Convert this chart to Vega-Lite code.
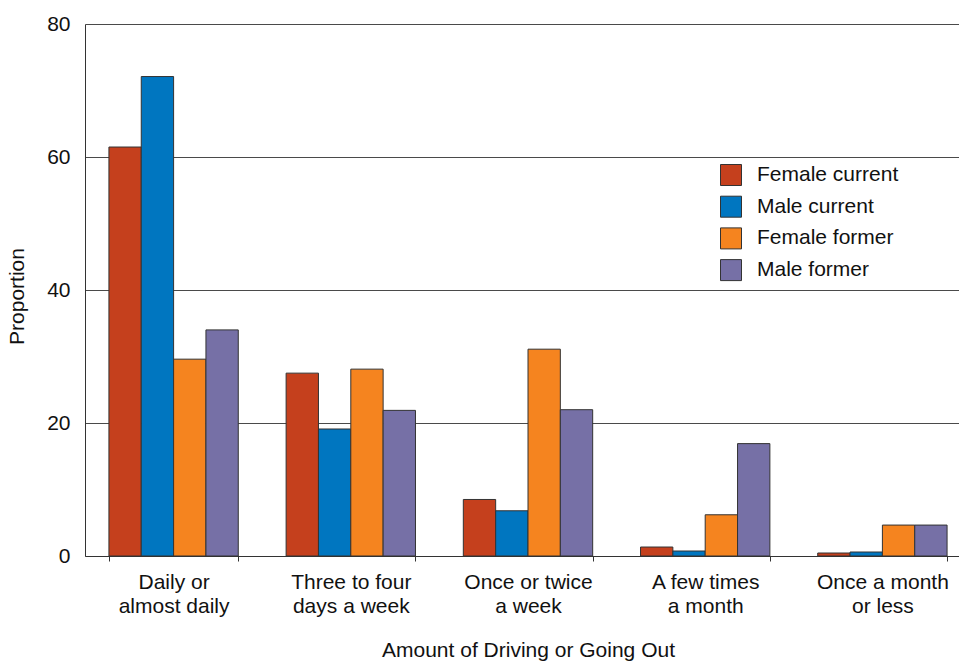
{
  "$schema": "https://vega.github.io/schema/vega-lite/v6.json",
  "autosize": "none",
  "padding": {"left": 85, "top": 24, "right": 0, "bottom": 105},
  "width": 874,
  "height": 532,
  "config": {
    "view": {"stroke": null},
    "font": "Liberation Sans",
    "axis": {"labelFont": "Liberation Sans", "titleFont": "Liberation Sans", "labelColor": "#111", "titleColor": "#111", "titleFontWeight": "normal"},
    "legend": {"labelFont": "Liberation Sans"}
  },
  "data": {
    "values": [
      {"amount": "Daily or almost daily", "group": "Female current", "proportion": 61.5},
      {"amount": "Daily or almost daily", "group": "Male current", "proportion": 72.1},
      {"amount": "Daily or almost daily", "group": "Female former", "proportion": 29.6},
      {"amount": "Daily or almost daily", "group": "Male former", "proportion": 34.0},
      {"amount": "Three to four days a week", "group": "Female current", "proportion": 27.5},
      {"amount": "Three to four days a week", "group": "Male current", "proportion": 19.1},
      {"amount": "Three to four days a week", "group": "Female former", "proportion": 28.1},
      {"amount": "Three to four days a week", "group": "Male former", "proportion": 21.9},
      {"amount": "Once or twice a week", "group": "Female current", "proportion": 8.5},
      {"amount": "Once or twice a week", "group": "Male current", "proportion": 6.8},
      {"amount": "Once or twice a week", "group": "Female former", "proportion": 31.1},
      {"amount": "Once or twice a week", "group": "Male former", "proportion": 22.0},
      {"amount": "A few times a month", "group": "Female current", "proportion": 1.35},
      {"amount": "A few times a month", "group": "Male current", "proportion": 0.75},
      {"amount": "A few times a month", "group": "Female former", "proportion": 6.2},
      {"amount": "A few times a month", "group": "Male former", "proportion": 16.9},
      {"amount": "Once a month or less", "group": "Female current", "proportion": 0.45},
      {"amount": "Once a month or less", "group": "Male current", "proportion": 0.6},
      {"amount": "Once a month or less", "group": "Female former", "proportion": 4.65},
      {"amount": "Once a month or less", "group": "Male former", "proportion": 4.65}
    ]
  },
  "mark": {"type": "bar", "stroke": "#333", "strokeWidth": 1},
  "encoding": {
    "x": {
      "field": "amount",
      "type": "nominal",
      "sort": null,
      "scale": {"range": [0, 886], "paddingInner": 0.27, "paddingOuter": 0.135},
      "axis": {
        "title": "Amount of Driving or Going Out",
        "titleFontSize": 21,
        "titleBaseline": "alphabetic",
        "titleY": 100.5,
        "labelAngle": 0,
        "labelFontSize": 21,
        "labelLineHeight": 24.5,
        "labelPadding": 10,
        "tickBand": "extent",
        "tickSize": 5,
        "tickColor": "#333",
        "domainColor": "#333",
        "labelExpr": "{'Daily or almost daily': ['Daily or', 'almost daily'], 'Three to four days a week': ['Three to four', 'days a week'], 'Once or twice a week': ['Once or twice', 'a week'], 'A few times a month': ['A few times', 'a month'], 'Once a month or less': ['Once a month', 'or less']}[datum.value]"
      }
    },
    "xOffset": {
      "field": "group",
      "type": "nominal",
      "sort": ["Female current", "Male current", "Female former", "Male former"],
      "scale": {"paddingInner": 0, "paddingOuter": 0}
    },
    "y": {
      "field": "proportion",
      "type": "quantitative",
      "scale": {"domain": [0, 80]},
      "axis": {
        "title": "Proportion",
        "titleFontSize": 21,
        "titleX": -58,
        "titleY": 272,
        "titleBaseline": "bottom",
        "values": [0, 20, 40, 60, 80],
        "labelFontSize": 21,
        "labelPadding": 15,
        "ticks": false,
        "grid": true,
        "gridColor": "#4a4a4a",
        "gridWidth": 1.2,
        "domainColor": "#333"
      }
    },
    "color": {
      "field": "group",
      "type": "nominal",
      "scale": {
        "domain": ["Female current", "Male current", "Female former", "Male former"],
        "range": ["#C5401D", "#0076C0", "#F5841F", "#7670A6"]
      },
      "legend": {
        "title": null,
        "orient": "none",
        "legendX": 635,
        "legendY": 140,
        "padding": 0,
        "symbolType": "square",
        "symbolSize": 441,
        "symbolStrokeColor": "#333",
        "symbolStrokeWidth": 1,
        "symbolOpacity": 1,
        "labelFontSize": 21,
        "labelColor": "#111",
        "labelOffset": 15,
        "rowPadding": 5.7,
        "labelLimit": 300
      }
    }
  }
}
